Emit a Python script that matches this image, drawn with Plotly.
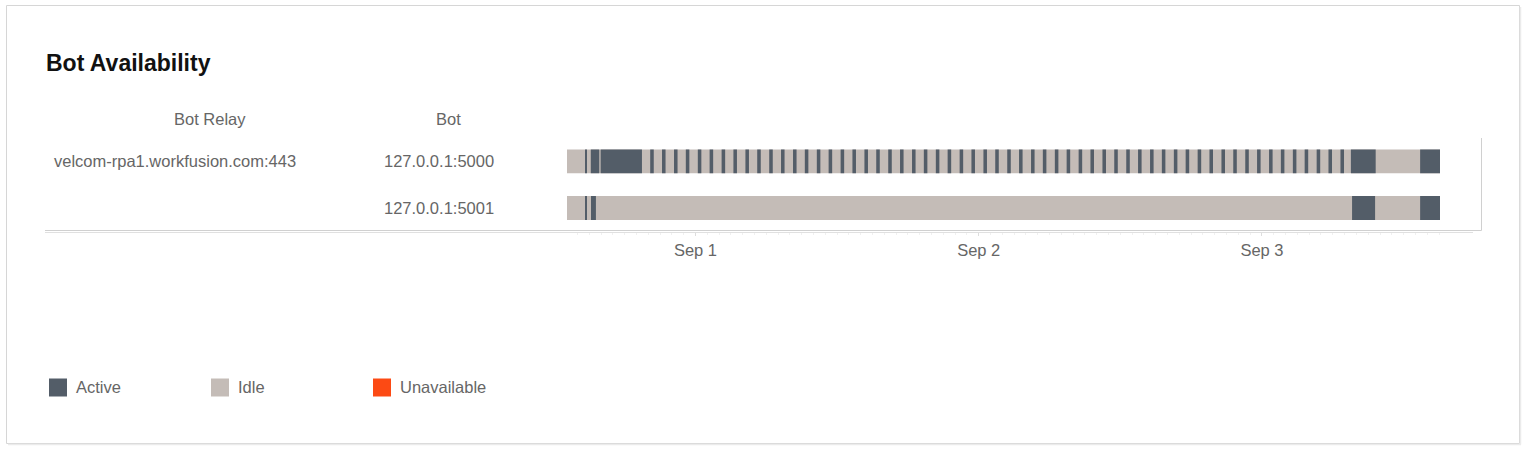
import plotly.graph_objects as go
import pandas as pd

W, H = 1526, 450

# bots and their relay
bots = ["127.0.0.1:5000", "127.0.0.1:5001"]
relays = ["velcom-rpa1.workfusion.com:443", ""]

states = ["Active", "Idle", "Unavailable"]
state_colors = ["#535d68", "#c4bcb7", "#fc4a14"]

# observed window for each bot (idle when not active)
window_start = ["2020-08-31 13:07", "2020-08-31 13:07"]
window_end = ["2020-09-03 15:05", "2020-09-03 15:05"]

# active periods, bot :5000
active_5000 = [
    ("2020-08-31 14:40", "2020-08-31 14:46"),
    ("2020-08-31 15:08", "2020-08-31 15:51"),
    ("2020-08-31 15:58", "2020-08-31 19:28"),
    ("2020-08-31 20:10", "2020-08-31 20:28"),
    ("2020-08-31 21:10", "2020-08-31 21:28"),
    ("2020-08-31 22:11", "2020-08-31 22:29"),
    ("2020-08-31 23:11", "2020-08-31 23:29"),
    ("2020-09-01 00:12", "2020-09-01 00:30"),
    ("2020-09-01 01:12", "2020-09-01 01:30"),
    ("2020-09-01 02:13", "2020-09-01 02:31"),
    ("2020-09-01 03:13", "2020-09-01 03:31"),
    ("2020-09-01 04:14", "2020-09-01 04:32"),
    ("2020-09-01 05:14", "2020-09-01 05:32"),
    ("2020-09-01 06:15", "2020-09-01 06:33"),
    ("2020-09-01 07:15", "2020-09-01 07:33"),
    ("2020-09-01 08:16", "2020-09-01 08:34"),
    ("2020-09-01 09:16", "2020-09-01 09:34"),
    ("2020-09-01 10:17", "2020-09-01 10:35"),
    ("2020-09-01 11:17", "2020-09-01 11:35"),
    ("2020-09-01 12:18", "2020-09-01 12:36"),
    ("2020-09-01 13:18", "2020-09-01 13:36"),
    ("2020-09-01 14:19", "2020-09-01 14:37"),
    ("2020-09-01 15:19", "2020-09-01 15:37"),
    ("2020-09-01 16:20", "2020-09-01 16:38"),
    ("2020-09-01 17:20", "2020-09-01 17:38"),
    ("2020-09-01 18:21", "2020-09-01 18:39"),
    ("2020-09-01 19:21", "2020-09-01 19:39"),
    ("2020-09-01 20:22", "2020-09-01 20:40"),
    ("2020-09-01 21:22", "2020-09-01 21:40"),
    ("2020-09-01 22:23", "2020-09-01 22:41"),
    ("2020-09-01 23:23", "2020-09-01 23:41"),
    ("2020-09-02 00:24", "2020-09-02 00:42"),
    ("2020-09-02 01:24", "2020-09-02 01:42"),
    ("2020-09-02 02:25", "2020-09-02 02:43"),
    ("2020-09-02 03:25", "2020-09-02 03:43"),
    ("2020-09-02 04:26", "2020-09-02 04:44"),
    ("2020-09-02 05:26", "2020-09-02 05:44"),
    ("2020-09-02 06:27", "2020-09-02 06:45"),
    ("2020-09-02 07:27", "2020-09-02 07:45"),
    ("2020-09-02 08:28", "2020-09-02 08:46"),
    ("2020-09-02 09:28", "2020-09-02 09:46"),
    ("2020-09-02 10:29", "2020-09-02 10:47"),
    ("2020-09-02 11:29", "2020-09-02 11:47"),
    ("2020-09-02 12:30", "2020-09-02 12:48"),
    ("2020-09-02 13:30", "2020-09-02 13:48"),
    ("2020-09-02 14:31", "2020-09-02 14:49"),
    ("2020-09-02 15:31", "2020-09-02 15:49"),
    ("2020-09-02 16:32", "2020-09-02 16:50"),
    ("2020-09-02 17:32", "2020-09-02 17:50"),
    ("2020-09-02 18:33", "2020-09-02 18:51"),
    ("2020-09-02 19:33", "2020-09-02 19:51"),
    ("2020-09-02 20:34", "2020-09-02 20:52"),
    ("2020-09-02 21:34", "2020-09-02 21:52"),
    ("2020-09-02 22:35", "2020-09-02 22:53"),
    ("2020-09-02 23:35", "2020-09-02 23:53"),
    ("2020-09-03 00:36", "2020-09-03 00:54"),
    ("2020-09-03 01:36", "2020-09-03 01:54"),
    ("2020-09-03 02:37", "2020-09-03 02:55"),
    ("2020-09-03 03:37", "2020-09-03 03:55"),
    ("2020-09-03 04:38", "2020-09-03 04:56"),
    ("2020-09-03 05:38", "2020-09-03 05:56"),
    ("2020-09-03 06:39", "2020-09-03 06:57"),
    ("2020-09-03 07:32", "2020-09-03 09:38"),
    ("2020-09-03 13:24", "2020-09-03 15:05"),
]

# active periods, bot :5001
active_5001 = [
    ("2020-08-31 14:40", "2020-08-31 14:46"),
    ("2020-08-31 15:09", "2020-08-31 15:34"),
    ("2020-09-03 07:38", "2020-09-03 09:35"),
    ("2020-09-03 13:24", "2020-09-03 15:05"),
]

# unavailable periods (none in this window)
unavailable = []

active = {bots[0]: active_5000, bots[1]: active_5001}

FONT = "Liberation Sans, Arial, sans-serif"
GREY = "#666666"


def px(x):
    return x / W


def py(y):
    return 1 - y / H


def to_bar(rows):
    # rows: list of (bot, start, end) -> y, base, duration in ms
    df = pd.DataFrame(rows, columns=["bot", "start", "end"])
    df["start"] = pd.to_datetime(df["start"])
    df["end"] = pd.to_datetime(df["end"])
    dur = (df["end"] - df["start"]).dt.total_seconds() * 1000
    return df["bot"], df["start"], dur


fig = go.Figure()

bar_width = 0.51

# idle background per bot
y, base, dur = to_bar(list(zip(bots, window_start, window_end)))
fig.add_trace(go.Bar(y=y, base=base, x=dur, orientation="h", width=bar_width,
                     marker=dict(color=state_colors[1], line_width=0),
                     name="Idle", showlegend=False, hoverinfo="skip"))

# active periods
rows = [(b, s, e) for b in bots for (s, e) in active[b]]
y, base, dur = to_bar(rows)
fig.add_trace(go.Bar(y=y, base=base, x=dur, orientation="h", width=bar_width,
                     marker=dict(color=state_colors[0], line_width=0),
                     name="Active", showlegend=False))

x_start = pd.to_datetime(min(window_start))
x_end = pd.to_datetime(max(window_end))

fig.update_layout(
    width=W, height=H,
    margin=dict(l=0, r=0, t=0, b=0),
    paper_bgcolor="white", plot_bgcolor="white",
    barmode="overlay",
    font=dict(family=FONT, size=16.5, color=GREY),
    showlegend=False,
    xaxis=dict(
        type="date",
        domain=[px(567), px(1440)],
        range=[x_start, x_end],
        tick0="2020-09-01", dtick=86400000, tickformat="%b %-d",
        ticks="outside", ticklen=4, tickcolor="#dddddd",
        minor=dict(dtick=3600000, ticks="outside", ticklen=3, tickcolor="#f0f0f0"),
        showgrid=False, zeroline=False, showline=False,
        tickfont=dict(size=16.5, color=GREY),
        fixedrange=True,
    ),
    yaxis=dict(
        type="category",
        categoryarray=bots,
        range=[1.5, -0.5],
        domain=[py(231.35), py(137.95)],
        showticklabels=False, showgrid=False, zeroline=False,
        fixedrange=True,
    ),
)

shapes = [
    # card
    dict(type="rect", xref="paper", yref="paper",
         x0=px(6.5), x1=px(1519.5), y0=py(443.5), y1=py(5.5),
         line=dict(color="#d6d6d6", width=1)),
    dict(type="line", xref="paper", yref="paper",
         x0=px(8), x1=px(1521), y0=py(444.5), y1=py(444.5),
         line=dict(color="#ebebeb", width=1.5)),
    dict(type="line", xref="paper", yref="paper",
         x0=px(1520.5), x1=px(1520.5), y0=py(444.5), y1=py(7),
         line=dict(color="#ebebeb", width=1.5)),
    # table frame
    dict(type="line", xref="paper", yref="paper",
         x0=px(45), x1=px(1481.5), y0=py(230.5), y1=py(230.5),
         line=dict(color="#d0d0d0", width=1)),
    dict(type="line", xref="paper", yref="paper",
         x0=px(45), x1=px(1473), y0=py(232.5), y1=py(232.5),
         line=dict(color="#e0e0e0", width=1)),
    dict(type="line", xref="paper", yref="paper",
         x0=px(1481.5), x1=px(1481.5), y0=py(230.5), y1=py(138),
         line=dict(color="#d0d0d0", width=1)),
]

annotations = [
    dict(text="<b>Bot Availability</b>", xref="paper", yref="paper",
         x=px(44), y=py(63), xanchor="left", yanchor="middle", showarrow=False,
         font=dict(size=23, color="#111111")),
    dict(text="Bot Relay", xref="paper", yref="paper",
         x=px(210), y=py(119), xanchor="center", yanchor="middle", showarrow=False),
    dict(text="Bot", xref="paper", yref="paper",
         x=px(449), y=py(119), xanchor="center", yanchor="middle", showarrow=False),
]

for bot, relay in zip(bots, relays):
    annotations.append(dict(text=relay, xref="paper", yref="y", x=px(52), y=bot,
                            xanchor="left", yanchor="middle", showarrow=False))
    annotations.append(dict(text=bot, xref="paper", yref="y", x=px(382), y=bot,
                            xanchor="left", yanchor="middle", showarrow=False))

# legend drawn by hand (square swatches)
for i, (state, color) in enumerate(zip(states, state_colors)):
    x0 = 49 + i * 162
    shapes.append(dict(type="rect", xref="paper", yref="paper",
                       x0=px(x0), x1=px(x0 + 18), y0=py(396.5), y1=py(378.5),
                       fillcolor=color, line=dict(width=0)))
    annotations.append(dict(text=state, xref="paper", yref="paper",
                            x=px(x0 + 25), y=py(387), xanchor="left", yanchor="middle",
                            showarrow=False))

fig.update_layout(shapes=shapes, annotations=annotations)

# the page body has an 8px margin by default; drop it so the figure fills the window
fig.write_html("out.html", config={"displayModeBar": False},
               post_script="document.body.style.margin='0';")
